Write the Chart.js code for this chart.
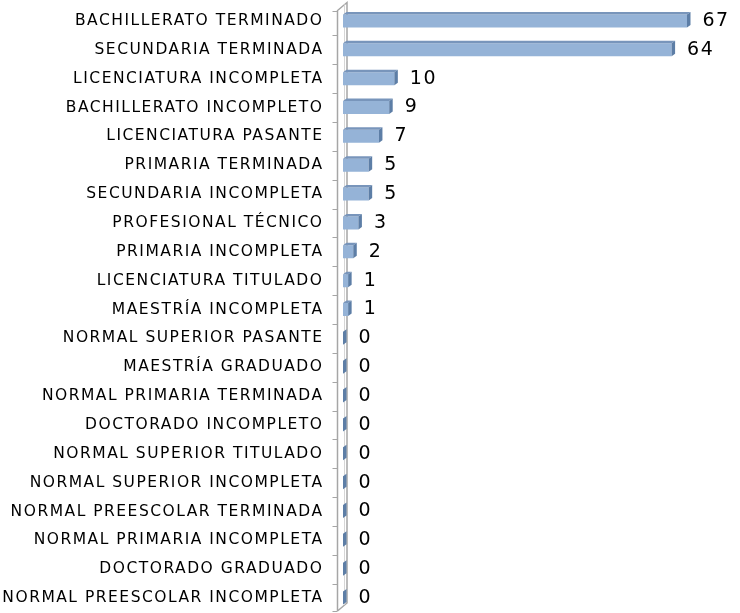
<!DOCTYPE html>
<html>
<head>
<meta charset="utf-8">
<script src="https://cdn.jsdelivr.net/npm/chart.js@4"></script>
<style>
  html, body { margin: 0; padding: 0; background: #ffffff; }
</style>
</head>
<body>
<canvas id="myChart" width="740" height="613"></canvas>
<script>
// escolaridad: categorias y numero de personas
const categorias = [
  'BACHILLERATO TERMINADO', 'SECUNDARIA TERMINADA', 'LICENCIATURA INCOMPLETA',
  'BACHILLERATO INCOMPLETO', 'LICENCIATURA PASANTE', 'PRIMARIA TERMINADA',
  'SECUNDARIA INCOMPLETA', 'PROFESIONAL TÉCNICO', 'PRIMARIA INCOMPLETA',
  'LICENCIATURA TITULADO', 'MAESTRÍA INCOMPLETA', 'NORMAL SUPERIOR PASANTE',
  'MAESTRÍA GRADUADO', 'NORMAL PRIMARIA TERMINADA', 'DOCTORADO INCOMPLETO',
  'NORMAL SUPERIOR TITULADO', 'NORMAL SUPERIOR INCOMPLETA', 'NORMAL PREESCOLAR TERMINADA',
  'NORMAL PRIMARIA INCOMPLETA', 'DOCTORADO GRADUADO', 'NORMAL PREESCOLAR INCOMPLETA'
];
const valores = [67, 64, 10, 9, 7, 5, 5, 3, 2, 1, 1, 0, 0, 0, 0, 0, 0, 0, 0, 0, 0];

const DX = 3.5, DY = 2.5;   // profundidad de las barras 3d

// espaciado de letras para las etiquetas del eje (letra ancha)
const espaciado = {
  id: 'espaciado',
  beforeDraw(chart) { chart.ctx.letterSpacing = '1.5px'; },
  afterDraw(chart) { chart.ctx.letterSpacing = '0px'; }
};

// caras superior y lateral de cada barra + etiqueta del valor
const barras3d = {
  id: 'barras3d',
  afterDatasetsDraw(chart) {
    const ctx = chart.ctx;
    const meta = chart.getDatasetMeta(0);
    ctx.save();
    meta.data.forEach((bar, i) => {
      const x0 = bar.base, x1 = bar.x;
      const top = bar.y - bar.height / 2, bot = bar.y + bar.height / 2;
      // cara superior
      if (x1 > x0) {
        ctx.fillStyle = '#7895bb';
        ctx.beginPath();
        ctx.moveTo(x0, top);
        ctx.lineTo(x0 + DX, top - DY);
        ctx.lineTo(x1 + DX, top - DY);
        ctx.lineTo(x1, top);
        ctx.closePath();
        ctx.fill();
      }
      // cara lateral
      ctx.fillStyle = '#5d7ea6';
      ctx.beginPath();
      ctx.moveTo(x1, top);
      ctx.lineTo(x1 + DX, top - DY);
      ctx.lineTo(x1 + DX, bot - DY);
      ctx.lineTo(x1, bot);
      ctx.closePath();
      ctx.fill();
      // valor
      ctx.fillStyle = '#000000';
      ctx.letterSpacing = '1.5px';
      ctx.font = '19px "DejaVu Sans"';
      ctx.textAlign = 'left';
      ctx.textBaseline = 'middle';
      ctx.fillText(String(valores[i]), x1 + DX + 12, bar.y);
    });
    ctx.restore();
  }
};

// pared del eje vertical con sus marcas
const pared = {
  id: 'pared',
  beforeDatasetsDraw(chart) {
    const ctx = chart.ctx;
    const area = chart.chartArea;
    const xs = chart.scales.x, ys = chart.scales.y;
    const base = xs.getPixelForValue(0);
    const fx = base - 5.5, bx = base + 4;
    const yTop = area.top + 4, yBot = area.bottom - 1.5;
    ctx.save();
    ctx.strokeStyle = '#a6a6a6';
    ctx.lineWidth = 1.5;
    ctx.beginPath();
    ctx.moveTo(fx, yBot);
    ctx.lineTo(fx, yTop);
    ctx.lineTo(bx, yTop - 8);
    ctx.lineTo(bx, yBot - 8);
    ctx.lineTo(fx, yBot);
    ctx.stroke();
    ctx.strokeStyle = '#d6d6d6';
    ctx.lineWidth = 1;
    ctx.beginPath();
    ctx.moveTo(base + 1.5, yTop - 6);
    ctx.lineTo(base + 1.5, yBot - 6);
    ctx.stroke();
    // marcas entre categorias
    ctx.strokeStyle = '#a6a6a6';
    const n = categorias.length;
    const paso = ys.getPixelForTick(1) - ys.getPixelForTick(0);
    for (let i = 0; i <= n; i++) {
      let y = ys.getPixelForTick(0) - paso / 2 + i * paso;
      y = Math.min(Math.max(y, yTop), yBot);
      y = Math.round(y) + 0.5;
      ctx.beginPath();
      ctx.moveTo(fx - 5, y);
      ctx.lineTo(fx, y);
      ctx.stroke();
    }
    ctx.restore();
  }
};

const config = {
  type: 'bar',
  data: {
    labels: categorias,
    datasets: [{
      data: valores,
      backgroundColor: '#95b3d7',
      borderWidth: 0,
      categoryPercentage: 1,
      barPercentage: 0.45
    }]
  },
  options: {
    indexAxis: 'y',
    responsive: false,
    animation: false,
    layout: { padding: { top: 6.5, bottom: 0.5, left: 0, right: 37.6 } },
    plugins: { legend: { display: false }, tooltip: { enabled: false } },
    scales: {
      x: { min: 0, max: 70, display: false },
      y: {
        grid: { display: false, drawTicks: false },
        border: { display: false },
        ticks: {
          color: '#000000',
          font: { family: '"DejaVu Sans"', size: 15.5 },
          padding: 19.5,
          autoSkip: false
        },
        afterFit(scale) {
          scale.width = 343;
          scale.paddingTop = 0;
          scale.paddingBottom = 0;
        }
      }
    }
  },
  plugins: [espaciado, pared, barras3d]
};

const ctx = document.getElementById('myChart').getContext('2d');
const myChart = new Chart(ctx, config);
</script>
</body>
</html>
